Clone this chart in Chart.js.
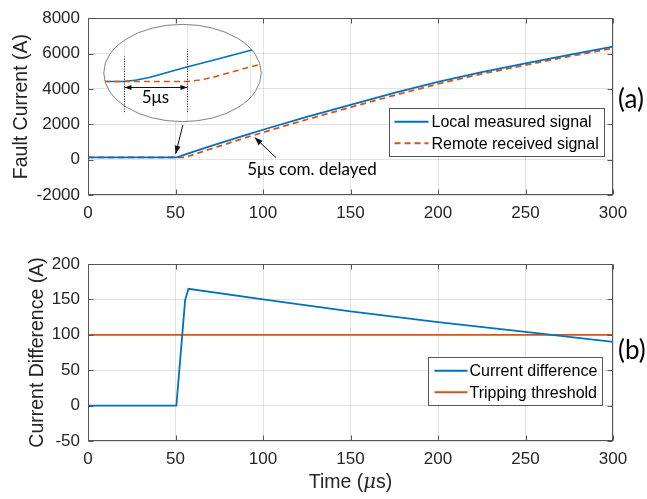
<!DOCTYPE html>
<html><head><meta charset="utf-8">
<script src="https://cdn.jsdelivr.net/npm/chart.js@4/dist/chart.umd.min.js"></script>
<style>
html,body{margin:0;padding:0;background:#fff;}
#wrap{position:relative;width:647px;height:499px;overflow:hidden;}
canvas{position:absolute;left:0;}
</style></head><body>
<div id="wrap">
<canvas id="c1" width="647" height="235" style="top:0"></canvas>
<canvas id="c2" width="647" height="264" style="top:235px"></canvas>
</div>
<script>
// ---------- data ----------
const timeTicks = [0, 50, 100, 150, 200, 250, 300];
const faultTicks = [-2000, 0, 2000, 4000, 6000, 8000];
const diffTicks = [-50, 0, 50, 100, 150, 200];

const localTime    = [0, 50, 51, 52, 53, 54, 55, 57, 60, 70, 80, 90, 100, 125, 150, 175, 200, 225, 250, 275, 300];
const localCurrent = [130, 130, 145, 170, 205, 240, 275, 340, 440, 760, 1080, 1390, 1690, 2420, 3100, 3770, 4400, 4950, 5450, 5930, 6390];

const remoteTime    = [0, 55, 56, 57, 58, 59, 60, 62, 65, 75, 85, 95, 105, 125, 150, 175, 200, 225, 250, 275, 300];
const remoteCurrent = [130, 130, 145, 170, 205, 240, 275, 340, 440, 760, 1080, 1390, 1690, 2270, 2960, 3640, 4280, 4850, 5350, 5840, 6300];

const diffTime  = [0, 50.5, 55.5, 57.4, 100, 150, 200, 250, 300];
const diffValue = [0, 0, 149, 165, 150, 133, 118, 104, 90];

const thresholdTime  = [0, 300];
const thresholdValue = [100, 100];

// inset (zoom) window, in data units
const insetTimeWindow = [48.4, 60.9];
const insetCurrentWindow = [-270, 700];
const insetGridTimes = [50, 55, 60];

// ---------- style ----------
const FONT = '"Liberation Sans", Arial, Helvetica, sans-serif';
const NOTE_FONT = 'Lato, "Open Sans", sans-serif';
const BLUE = '#0072BD';
const ORANGE = '#D95319';
const GRID = 'rgba(38,38,38,0.13)';
const AXIS = '#555555';
const TEXT = '#262626';

const pts = (xs, ys) => xs.map((t, i) => ({x: t, y: ys[i]}));

function drawArrowHead(ctx, x0, y0, x1, y1, len, half) {
  const ang = Math.atan2(y1 - y0, x1 - x0);
  ctx.beginPath();
  ctx.moveTo(x1, y1);
  ctx.lineTo(x1 - len * Math.cos(ang) + half * Math.sin(ang), y1 - len * Math.sin(ang) - half * Math.cos(ang));
  ctx.lineTo(x1 - len * Math.cos(ang) - half * Math.sin(ang), y1 - len * Math.sin(ang) + half * Math.cos(ang));
  ctx.closePath();
  ctx.fill();
}

const framePlugin = {
  id: 'frame',
  afterDatasetsDraw(chart) {
    const {ctx, chartArea: a, scales: {x, y}} = chart;
    ctx.save();
    ctx.strokeStyle = AXIS; ctx.lineWidth = 1; ctx.setLineDash([]);
    const L = Math.round(a.left) + 0.5, R = Math.round(a.right) - 0.5;
    const T = Math.round(a.top) + 0.5, B = Math.round(a.bottom) - 0.5;
    ctx.strokeRect(L, T, R - L, B - T);
    const tl = 5;
    ctx.beginPath();
    x.ticks.forEach(t => {
      const p = Math.round(x.getPixelForValue(t.value)) + 0.5;
      ctx.moveTo(p, B); ctx.lineTo(p, B - tl);
      ctx.moveTo(p, T); ctx.lineTo(p, T + tl);
    });
    y.ticks.forEach(t => {
      const p = Math.round(y.getPixelForValue(t.value)) + 0.5;
      ctx.moveTo(L, p); ctx.lineTo(L + tl, p);
      ctx.moveTo(R, p); ctx.lineTo(R - tl, p);
    });
    ctx.stroke();
    ctx.restore();
  }
};

const decorPlugin = {
  id: 'decor',
  afterDraw(chart, args, o) {
    const {ctx, chartArea: a, scales: {x, y}} = chart;
    ctx.save();
    // y title
    ctx.fillStyle = TEXT;
    ctx.font = `19.5px ${FONT}`;
    ctx.textAlign = 'center'; ctx.textBaseline = 'middle';
    ctx.translate(o.yTitleX, (a.top + a.bottom) / 2);
    ctx.rotate(-Math.PI / 2);
    ctx.fillText(o.yTitle, 0, 0);
    ctx.setTransform(1, 0, 0, 1, 0, 0);
    // x title with italic mu
    if (o.xTitle) {
      const parts = [['Time (', `19.5px ${FONT}`], ['\u03BC', `italic 19.5px "DejaVu Serif", serif`], ['s)', `19.5px ${FONT}`]];
      let w = 0;
      parts.forEach(p => { ctx.font = p[1]; w += ctx.measureText(p[0]).width; });
      let cx = (a.left + a.right) / 2 - w / 2;
      ctx.textAlign = 'left';
      parts.forEach(p => { ctx.font = p[1]; ctx.fillText(p[0], cx, a.bottom + o.xTitleOffset); cx += ctx.measureText(p[0]).width; });
    }
    // panel label
    ctx.fillStyle = '#000';
    ctx.font = `26px ${NOTE_FONT}`;
    ctx.textAlign = 'left';
    ctx.fillText(o.panel, a.right + o.panelDx, y.getPixelForValue(o.panelValue));
    ctx.restore();
  }
};

const boxLegend = {
  id: 'boxLegend',
  afterDraw(chart, args, o) {
    const {ctx, chartArea: a} = chart;
    ctx.save();
    ctx.font = `16px ${FONT}`;
    const items = chart.data.datasets;
    const tw = Math.max(...items.map(d => ctx.measureText(d.label).width));
    const w = o.textLeft + tw + o.padRight;
    const h = o.rowH * items.length + o.padV * 2;
    const right = Math.round(a.right - o.offsetRight) + 0.5;
    const bottom = Math.round(a.bottom - o.offsetBottom) + 0.5;
    const left = Math.round(right - w) + 0.5, top = bottom - h;
    ctx.fillStyle = '#fff';
    ctx.fillRect(left, top, right - left, h);
    ctx.strokeStyle = AXIS; ctx.lineWidth = 1;
    ctx.strokeRect(left, top, right - left, h);
    items.forEach((d, i) => {
      const cy = top + o.padV + o.rowH * (i + 0.5);
      ctx.beginPath();
      ctx.strokeStyle = d.borderColor; ctx.lineWidth = d.borderWidth;
      ctx.setLineDash(d.borderDash || []);
      ctx.moveTo(left + o.sampleLeft, cy); ctx.lineTo(left + o.sampleLeft + o.sampleLen, cy);
      ctx.stroke();
      ctx.setLineDash([]);
      ctx.fillStyle = '#000';
      ctx.textAlign = 'left'; ctx.textBaseline = 'middle';
      ctx.fillText(d.label, left + o.textLeft, cy + 1);
    });
    ctx.restore();
  }
};

const insetPlugin = {
  id: 'inset',
  afterDatasetsDraw(chart, args, o) {
    const {ctx, scales: {x, y}} = chart;
    const cx = x.getPixelForValue(o.center[0]), cy = y.getPixelForValue(o.center[1]);
    const rx = x.getPixelForValue(o.center[0] + o.radii[0]) - cx;
    const ry = cy - y.getPixelForValue(o.center[1] + o.radii[1]);
    const L = cx - rx, R = cx + rx, T = cy - ry, B = cy + ry;
    const ix = t => L + (t - insetTimeWindow[0]) / (insetTimeWindow[1] - insetTimeWindow[0]) * (R - L);
    const iy = v => B - (v - insetCurrentWindow[0]) / (insetCurrentWindow[1] - insetCurrentWindow[0]) * (B - T);
    ctx.save();
    ctx.beginPath(); ctx.ellipse(cx, cy, rx, ry, 0, 0, 2 * Math.PI);
    ctx.fillStyle = '#fff'; ctx.fill();
    ctx.save();
    ctx.clip();
    ctx.strokeStyle = GRID; ctx.lineWidth = 1;
    ctx.beginPath();
    insetGridTimes.forEach(t => { const p = Math.round(ix(t)) + 0.5; ctx.moveTo(p, T); ctx.lineTo(p, B); });
    ctx.stroke();
    chart.data.datasets.forEach(ds => {
      ctx.beginPath();
      ds.data.forEach((p, i) => { const X = ix(p.x), Y = iy(p.y); if (i) ctx.lineTo(X, Y); else ctx.moveTo(X, Y); });
      ctx.strokeStyle = ds.borderColor; ctx.lineWidth = 1.6;
      ctx.setLineDash(ds.borderDash || []);
      ctx.stroke();
    });
    ctx.restore();
    ctx.setLineDash([]);
    ctx.beginPath(); ctx.ellipse(cx, cy, rx, ry, 0, 0, 2 * Math.PI);
    ctx.strokeStyle = '#808080'; ctx.lineWidth = 1; ctx.stroke();
    // dotted markers
    ctx.strokeStyle = '#222'; ctx.setLineDash([1, 1.5]);
    o.markers.forEach(m => {
      const p = Math.round(ix(m[0])) + 0.5;
      ctx.beginPath(); ctx.moveTo(p, iy(m[1])); ctx.lineTo(p, iy(m[2])); ctx.stroke();
    });
    ctx.setLineDash([]);
    // double arrow
    const da = o.span;
    const x0 = ix(da[0]) + 0.5, x1 = ix(da[1]) + 0.5, yy = Math.round(iy(da[2])) + 0.5;
    ctx.strokeStyle = '#111'; ctx.fillStyle = '#111';
    ctx.beginPath(); ctx.moveTo(x0, yy); ctx.lineTo(x1, yy); ctx.stroke();
    drawArrowHead(ctx, x1, yy, x0, yy, 7, 2.5);
    drawArrowHead(ctx, x0, yy, x1, yy, 7, 2.5);
    ctx.font = `17px ${NOTE_FONT}`; ctx.textAlign = 'center'; ctx.textBaseline = 'middle';
    ctx.fillStyle = '#000';
    ctx.fillText(o.spanText, ix((da[0] + da[1]) / 2), iy(o.spanTextValue));
    // arrows in main data coordinates
    o.arrows.forEach(ar => {
      const X0 = x.getPixelForValue(ar[0]), Y0 = y.getPixelForValue(ar[1]);
      const X1 = x.getPixelForValue(ar[2]), Y1 = y.getPixelForValue(ar[3]);
      ctx.strokeStyle = '#111'; ctx.fillStyle = '#111'; ctx.lineWidth = 1;
      ctx.beginPath(); ctx.moveTo(X0, Y0); ctx.lineTo(X1, Y1); ctx.stroke();
      drawArrowHead(ctx, X0, Y0, X1, Y1, 8, 3);
    });
    ctx.fillStyle = '#000';
    ctx.textAlign = 'left';
    ctx.fillText(o.note, x.getPixelForValue(o.noteAt[0]), y.getPixelForValue(o.noteAt[1]));
    ctx.restore();
  }
};

function scaleX(height) {
  return {
    type: 'linear', min: 0, max: 300,
    afterBuildTicks: s => { s.ticks = timeTicks.map(v => ({value: v})); },
    afterFit: s => { s.height = height; },
    grid: {color: GRID, drawTicks: false},
    border: {display: false},
    ticks: {padding: 8, font: {family: FONT, size: 17}, color: TEXT, maxRotation: 0, autoSkip: false, callback: v => String(v)}
  };
}
function scaleY(min, max, ticks) {
  return {
    type: 'linear', min: min, max: max,
    afterBuildTicks: s => { s.ticks = ticks.map(v => ({value: v})); },
    afterFit: s => { s.width = 88; },
    grid: {color: GRID, drawTicks: false},
    border: {display: false},
    ticks: {padding: 8, font: {family: FONT, size: 17}, color: TEXT, autoSkip: false, callback: v => String(v)}
  };
}

const common = {responsive: false, animation: false, devicePixelRatio: 1, events: []};

new Chart(document.getElementById('c1'), {
  type: 'line',
  data: {datasets: [
    {label: 'Local measured signal', data: pts(localTime, localCurrent), borderColor: BLUE, borderWidth: 1.8, pointRadius: 0, tension: 0, fill: false},
    {label: 'Remote received signal', data: pts(remoteTime, remoteCurrent), borderColor: ORANGE, borderWidth: 1.8, borderDash: [6, 4], pointRadius: 0, tension: 0, fill: false}
  ]},
  options: Object.assign({}, common, {
    layout: {padding: {left: 0, top: 10, right: 34, bottom: 0}},
    scales: {x: scaleX(40), y: scaleY(-2000, 8000, faultTicks)},
    plugins: {
      legend: {display: false}, tooltip: {enabled: false},
      decor: {yTitle: 'Fault Current (A)', yTitleX: 22, xTitle: false, panel: '(a)', panelDx: 5, panelValue: 3400},
      boxLegend: {offsetRight: 9, offsetBottom: 39, rowH: 21.5, padV: 2.5, sampleLeft: 5, sampleLen: 34, textLeft: 42, padRight: 6},
      inset: {
        center: [54, 4900], radii: [45, 2750],
        markers: [[50, -175, 380], [55, -175, 455]],
        span: [50, 55, 72], spanText: '5\u03BCs', spanTextValue: -32,
        arrows: [[54.2, 1950, 50.1, 330], [107.5, 110, 95.3, 1250]],
        note: '5\u03BCs com. delayed', noteAt: [91, -560]
      }
    }
  }),
  plugins: [framePlugin, insetPlugin, decorPlugin, boxLegend]
});

new Chart(document.getElementById('c2'), {
  type: 'line',
  data: {datasets: [
    {label: 'Current difference', data: pts(diffTime, diffValue), borderColor: BLUE, borderWidth: 1.8, pointRadius: 0, tension: 0, fill: false},
    {label: 'Tripping threshold', data: pts(thresholdTime, thresholdValue), borderColor: ORANGE, borderWidth: 1.8, pointRadius: 0, tension: 0, fill: false}
  ]},
  options: Object.assign({}, common, {
    layout: {padding: {left: 0, top: 29, right: 34, bottom: 0}},
    scales: {x: scaleX(58), y: scaleY(-50, 200, diffTicks)},
    plugins: {
      legend: {display: false}, tooltip: {enabled: false},
      decor: {yTitle: 'Current Difference (A)', yTitleX: 38, xTitle: true, xTitleOffset: 42, panel: '(b)', panelDx: 5, panelValue: 78},
      boxLegend: {offsetRight: 11, offsetBottom: 36, rowH: 21.5, padV: 2.5, sampleLeft: 6, sampleLen: 33, textLeft: 41, padRight: 6}
    }
  }),
  plugins: [framePlugin, decorPlugin, boxLegend]
});
</script>
</body></html>
